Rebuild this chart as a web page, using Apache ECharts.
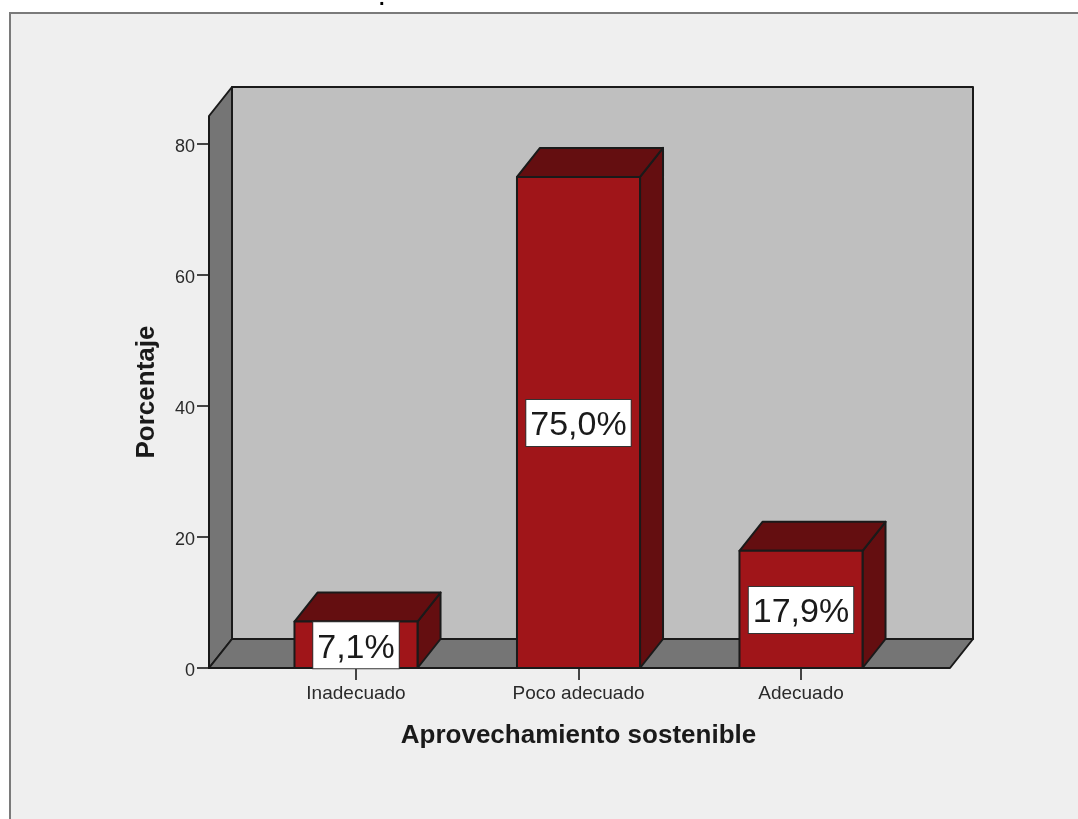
<!DOCTYPE html>
<html><head><meta charset="utf-8">
<style>html,body{margin:0;padding:0;background:#fff}#c{width:1078px;height:819px}</style>
<script src="https://cdn.jsdelivr.net/npm/echarts@6/dist/echarts.min.js"></script>
</head><body><div id="c"></div>
<script>
const categories = ['Inadecuado', 'Poco adecuado', 'Adecuado'];
const percentages = [7.1, 75.0, 17.9];
const yTicks = [0, 20, 40, 60, 80];
const xTitle = 'Aprovechamiento sostenible';
const yTitle = 'Porcentaje';

const depthX = 23, depthY = 29, wallPad = 35.75;
const FONT = '"Liberation Sans", Arial, sans-serif';
const LINE = '#1a1a1a';
const chart = echarts.init(document.getElementById('c'), null, {renderer: 'canvas'});

function poly(points, fill, z2) {
  return {type: 'polygon', z2: z2 || 0, shape: {points},
    style: {fill, stroke: LINE, lineWidth: 2, lineJoin: 'round'}};
}

function renderWalls(params, api) {
  const r = params.coordSys;
  const l = r.x - wallPad, R = r.x + r.width + wallPad + 2, t = r.y, b = r.y + r.height;
  return {type: 'group', children: [
    poly([[l + depthX, t - depthY], [R + depthX, t - depthY], [R + depthX, b - depthY], [l + depthX, b - depthY]], '#bfbfbf'),
    poly([[l, t], [l + depthX, t - depthY], [l + depthX, b - depthY], [l, b]], '#757575'),
    poly([[l, b], [l + depthX, b - depthY], [R + depthX, b - depthY], [R, b]], '#757575')
  ]};
}

function renderBar(params, api) {
  const c = api.coord([api.value(0), api.value(1)]);
  const base = api.coord([api.value(0), 0]);
  const w = api.size([1, 0])[0] * 0.553;
  const x0 = c[0] - w / 2, x1 = c[0] + w / 2, yT = c[1], yB = base[1];
  const mid = (yT + yB) / 2;
  const txt = api.value(1).toFixed(1).replace('.', ',') + '%';
  return {type: 'group', children: [
    poly([[x1, yT], [x1 + depthX, yT - depthY], [x1 + depthX, yB - depthY], [x1, yB]], '#640e10'),
    poly([[x0, yT], [x0 + depthX, yT - depthY], [x1 + depthX, yT - depthY], [x1, yT]], '#640e10'),
    poly([[x0, yT], [x1, yT], [x1, yB], [x0, yB]], '#a01519'),
    {type: 'text', z2: 5, style: {
      text: txt, x: c[0], y: mid + 0.5, align: 'center', verticalAlign: 'middle',
      font: '34px ' + FONT, fill: 'rgba(0,0,0,0)', backgroundColor: '#fff',
      borderColor: '#333', borderWidth: 1, padding: [6, 4, 6, 4]
    }},
    {type: 'text', z2: 6, style: {
      text: txt, x: c[0], y: mid + 3.5, align: 'center', verticalAlign: 'middle',
      font: '34px ' + FONT, fill: '#1a1a1a'
    }}
  ]};
}

chart.setOption({
  animation: false,
  backgroundColor: '#fff',
  graphic: [
    {type: 'rect', z: -10, shape: {x: 10, y: 13, width: 1200, height: 1000},
     style: {fill: '#efefef', stroke: '#7a7a7a', lineWidth: 2}},
    {type: 'text', z: 10, style: {text: '.', x: 379, y: -11, font: 'bold 20px ' + FONT, fill: '#000'}}
  ],
  grid: {left: 244.75, top: 116, width: 667.5, height: 552, containLabel: false},
  xAxis: {
    type: 'category', data: categories, boundaryGap: true,
    axisLine: {show: false},
    axisTick: {show: true, alignWithLabel: true, length: 12, lineStyle: {color: '#444', width: 2}},
    axisLabel: {color: '#2a2a2a', fontFamily: FONT, fontSize: 19, margin: 16},
    name: xTitle, nameLocation: 'middle', nameGap: 55,
    nameTextStyle: {fontFamily: FONT, fontWeight: 'bold', fontSize: 26, color: '#1a1a1a'}
  },
  yAxis: {
    type: 'value', min: 0, max: 84.3, offset: wallPad,
    splitLine: {show: false},
    axisLine: {show: false},
    axisTick: {show: true, length: 12, customValues: yTicks, lineStyle: {color: '#444', width: 2}},
    axisLabel: {fontFamily: FONT, fontSize: 18, margin: 14, customValues: yTicks,
      formatter: '{t|{value}}',
      rich: {t: {color: '#2a2a2a', fontFamily: FONT, fontSize: 18, padding: [6, 0, 0, 0]}}},
    name: yTitle, nameLocation: 'middle', nameGap: 49,
    nameTextStyle: {fontFamily: FONT, fontWeight: 'bold', fontSize: 26, color: '#1a1a1a'}
  },
  series: [
    {type: 'custom', name: 'walls', z: 1, clip: false, renderItem: renderWalls, data: [[0, 0]], silent: true},
    {type: 'custom', name: 'Porcentaje', z: 3, clip: false, renderItem: renderBar,
     encode: {x: 0, y: 1},
     data: categories.map((c, i) => [i, percentages[i]])}
  ]
});
</script></body></html>
